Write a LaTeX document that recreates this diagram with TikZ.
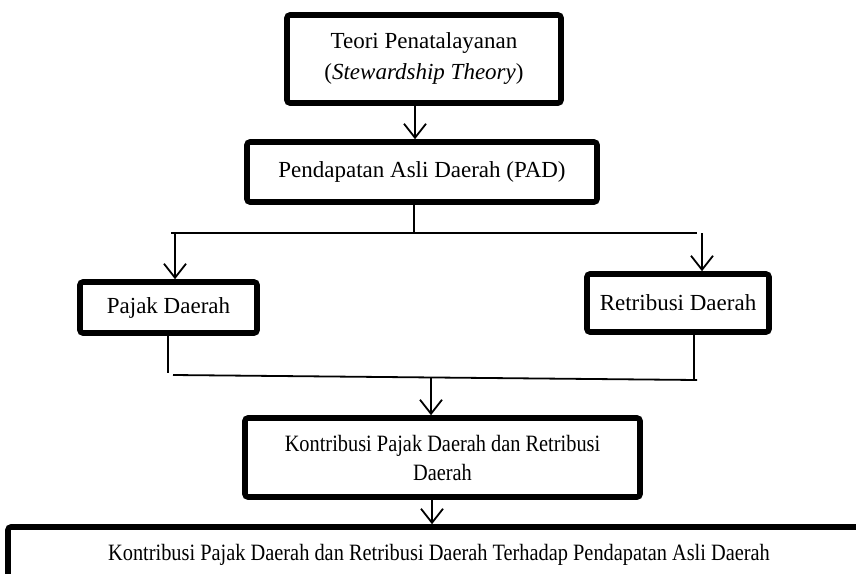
\documentclass[tikz,border=0pt]{standalone}
\usepackage{fontspec}
\setmainfont{Liberation Serif}
\newfontfamily\condfont[FakeStretch=0.87]{Liberation Serif}
\usetikzlibrary{arrows.meta}
\begin{document}
\begin{tikzpicture}[x=0.5pt,y=-0.5pt,
  box/.style={draw, line width=2.8pt, rounded corners=1.5pt, inner sep=0pt, align=center, font=\fontsize{11.5}{15.5}\selectfont},
  condbox/.style={box, font=\condfont\fontsize{11.7}{14.5}\selectfont},
  conn/.style={line width=0.9pt},
  arr/.style={conn, -{Straight Barb[length=7pt,width=11pt]}}]
\clip (0,0) rectangle (856,573);
\useasboundingbox (0,0) rectangle (856,573);

\node[box, minimum width=137pt, minimum height=44pt] (b1) at (424,59) {Teori Penatalayanan\\(\textit{Stewardship Theory})};
\node[box, minimum width=175pt, minimum height=30pt] (b2) at (422,172) {Pendapatan Asli Daerah (PAD)};
\node[box, minimum width=88.5pt, minimum height=25.5pt] (b3) at (168.5,307.5) {Pajak Daerah};
\node[box, minimum width=91pt, minimum height=29pt] (b4) at (678,303) {Retribusi Daerah};
\node[condbox, minimum width=197.5pt, minimum height=39.5pt] (b5) at (442.5,457.5) {Kontribusi Pajak Daerah dan Retribusi\\Daerah};
\node[condbox, minimum width=431pt, minimum height=28pt] (b6) at (439,555) {Kontribusi Pajak Daerah dan Retribusi Daerah Terhadap Pendapatan Asli Daerah};

% helper x positions
\coordinate (x1) at (415,0);
\coordinate (x2) at (414,0);
\coordinate (x3) at (175,0);
\coordinate (x4) at (702,0);
\coordinate (x5) at (168,0);
\coordinate (x6) at (694,0);
\coordinate (x7) at (431,0);
\coordinate (x8) at (432,0);

% junctions
\coordinate (jt) at (414,233);
\coordinate (tl) at (171,233);
\coordinate (tr) at (697,233);
\coordinate (ja) at (175,233);
\coordinate (jb) at (702,233);
\coordinate (bl) at (173,375);
\coordinate (br) at (697,380);
\coordinate (lc) at (168,373);
\coordinate (rc) at (694,380);
\coordinate (jm) at (431,377);

\draw[arr] (b1.south -| x1) -- (b2.north -| x1);
\draw[conn] (b2.south -| x2) -- (jt);
\draw[conn] (tl) -- (tr);
\draw[arr] (ja) -- (b3.north -| x3);
\draw[arr] (jb) -- (b4.north -| x4);
\draw[conn] (b3.south -| x5) -- (lc);
\draw[conn] (b4.south -| x6) -- (rc);
\draw[conn] (bl) -- (br);
\draw[arr] (jm) -- (b5.north -| x7);
\draw[arr] (b5.south -| x8) -- (b6.north -| x8);
\end{tikzpicture}
\end{document}
